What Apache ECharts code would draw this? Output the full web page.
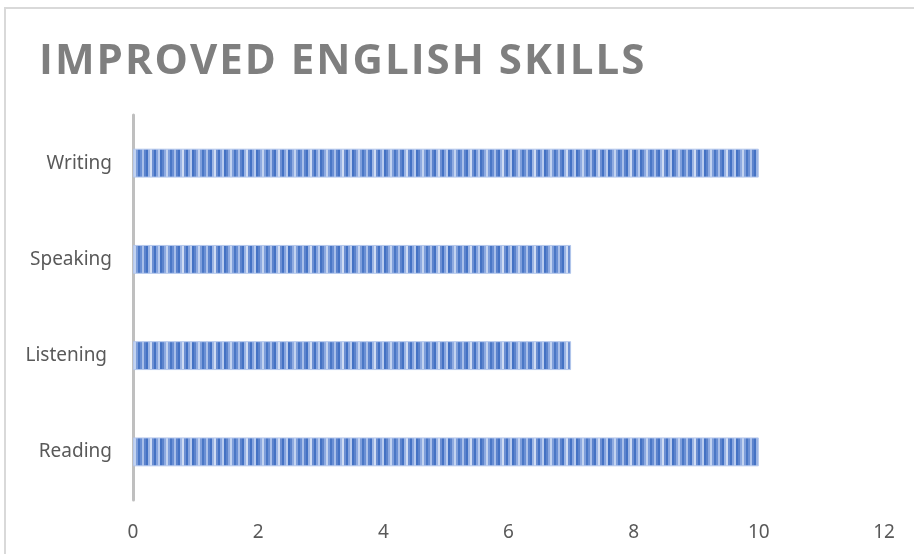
<!DOCTYPE html>
<html>
<head>
<meta charset="utf-8">
<script src="https://cdn.jsdelivr.net/npm/echarts@6/dist/echarts.min.js"></script>
<style>
  html, body { margin: 0; padding: 0; background: #ffffff; }
  #chart { width: 914px; height: 554px; }
</style>
</head>
<body>
<div id="chart"></div>
<script>
// Skills, listed bottom to top on the category axis
const skills = ['Reading', 'Listening ', 'Speaking', 'Writing'];
const scores = [10, 7, 7, 10];
const tickMax = 12;
const tickStep = 2;
const chartTitle = 'IMPROVED ENGLISH SKILLS';

// Vertical-stripe fill for the bars
function stripePattern() {
  const shades = ['#4472c4', '#5b83cc', '#8eaae0', '#c3d3f0', '#7f9fdb', '#4a77c6',
                  '#6a8fd4', '#a9bfe9', '#5d84cd', '#4472c4', '#9bb4e4', '#d0dcf3',
                  '#6d90d3', '#4472c4', '#86a4de', '#b8cbee'];
  const c = document.createElement('canvas');
  c.width = shades.length * 2;
  c.height = 4;
  const ctx = c.getContext('2d');
  shades.forEach((col, i) => {
    ctx.fillStyle = col;
    ctx.fillRect(i * 2, 0, 2, 4);
  });
  return c;
}

// Title drawn letter by letter as rich-text tokens so the letters get extra tracking
const titleRich = chartTitle.split('').map(ch => '{c|' + ch + '}').join('');

const chart = echarts.init(document.getElementById('chart'), null, { renderer: 'canvas' });

chart.setOption({
  backgroundColor: '#ffffff',
  animation: false,
  graphic: [{
    type: 'rect',
    shape: { x: 5, y: 8, width: 920, height: 560 },
    style: { fill: 'none', stroke: '#d9d9d9', lineWidth: 2 },
    silent: true,
    z: -1
  }, {
    type: 'text',
    left: 39,
    top: 41,
    silent: true,
    style: {
      text: titleRich,
      fill: '#7f7f7f',
      rich: {
        c: {
          fontFamily: 'Open Sans',
          fontWeight: 'bold',
          fontSize: 42,
          fill: '#7f7f7f',
          padding: [0, 1]
        }
      }
    }
  }],
  grid: { left: 133, right: 30, top: 115, bottom: 54, containLabel: false },
  xAxis: {
    type: 'value',
    min: 0,
    max: tickMax,
    interval: tickStep,
    axisLine: { show: false },
    axisTick: { show: false },
    splitLine: { show: false },
    axisLabel: {
      margin: 23,
      fontFamily: 'Noto Sans',
      fontSize: 19,
      color: '#595959'
    }
  },
  yAxis: {
    type: 'category',
    data: skills,
    axisLine: { show: true, lineStyle: { color: '#bfbfbf', width: 3 } },
    axisTick: { show: false },
    splitLine: { show: false },
    axisLabel: {
      margin: 21,
      fontFamily: 'Noto Sans',
      fontSize: 19,
      color: '#595959'
    }
  },
  series: [{
    type: 'bar',
    data: scores,
    barWidth: '30%',
    itemStyle: {
      color: { image: stripePattern(), repeat: 'repeat' },
      borderColor: '#b4c7ec',
      borderWidth: 1
    }
  }]
});
</script>
</body>
</html>
